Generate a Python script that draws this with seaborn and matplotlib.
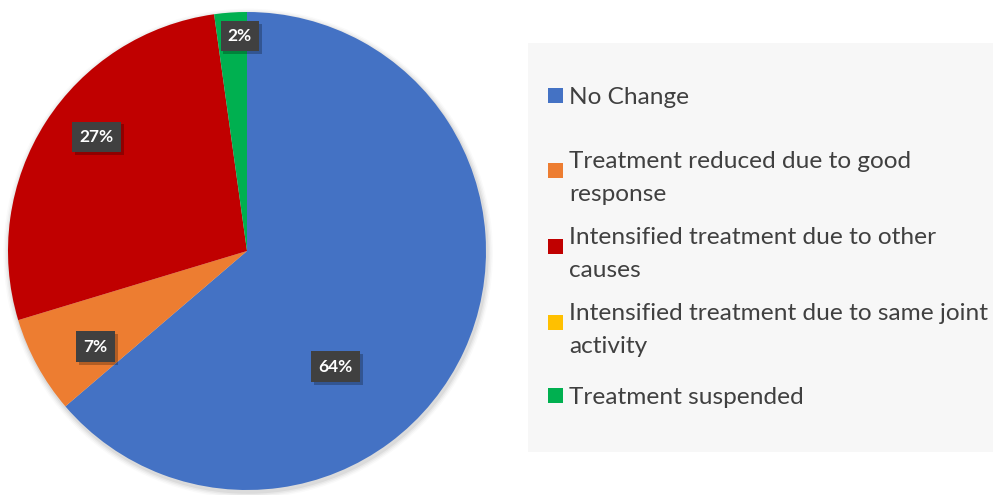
import numpy as np
import matplotlib
matplotlib.use("Agg")
import matplotlib.pyplot as plt
from matplotlib.patches import Rectangle
import matplotlib.patheffects as pe
import seaborn as sns

categories = [
    "No Change",
    "Treatment reduced due to good\nresponse",
    "Intensified treatment due to other\ncauses",
    "Intensified treatment due to same joint\nactivity",
    "Treatment suspended",
]
counts = [58, 6, 25, 0, 2]
pct_labels = ["64%", "7%", "27%", "", "2%"]

colors = sns.color_palette(["#4472C4", "#ED7D31", "#C00000", "#FFC000", "#00B050"])
# label placement (radius fraction, angle in degrees) - styling
label_r = [0.61, 0.75, 0.79, 0.0, 0.90]
label_ang = [-52.5, 212.3, 142.8, 0.0, 91.9]

sns.set_theme(style="white")
plt.rcParams["font.family"] = ["Lato", "DejaVu Sans"]

W, H = 993, 495
fig = plt.figure(figsize=(W / 100, H / 100), dpi=100)
fig.patch.set_facecolor("white")

cx, cy, R = 247, 251, 239
lim = 1.03
RA = R * lim
ax = fig.add_axes([(cx - RA) / W, (H - cy - RA) / H, 2 * RA / W, 2 * RA / H])
# soft edge shadow
for k, a in enumerate([0.05, 0.04, 0.03, 0.02]):
    ax.add_patch(plt.Circle((0.005, -0.01), 1.0 + 0.006 * (k + 1), color="black",
                            alpha=a, lw=0, zorder=0))
ax.pie(counts, colors=colors, startangle=90, counterclock=False,
       radius=1.0, wedgeprops=dict(linewidth=0, zorder=1))
ax.set_xlim(-lim, lim)
ax.set_ylim(-lim, lim)
ax.set_aspect("equal")
ax.axis("off")

for lab, r, a in zip(pct_labels, label_r, label_ang):
    if not lab:
        continue
    x, y = r * np.cos(np.radians(a)), r * np.sin(np.radians(a))
    t = ax.text(x, y, lab, ha="center", va="center", color="white",
                fontsize=12.5, fontweight="bold", zorder=4,
                bbox=dict(boxstyle="square,pad=0.42", facecolor="#404040",
                          edgecolor="none"))
    t.get_bbox_patch().set_path_effects(
        [pe.SimplePatchShadow(offset=(2, -2), shadow_rgbFace="black", alpha=0.25),
         pe.Normal()])

# legend panel
fig.patches.append(Rectangle((528 / W, (H - 452) / H), (W - 528) / W, (452 - 43) / H,
                             transform=fig.transFigure, facecolor="#F7F7F7",
                             edgecolor="none", zorder=0))
entry_y = [95, 170, 246, 322, 395]
sq = 15
for lab, col, y in zip(categories, colors, entry_y):
    fig.patches.append(Rectangle((548 / W, (H - y - sq / 2) / H), sq / W, sq / H,
                                 transform=fig.transFigure, facecolor=col,
                                 edgecolor="none", zorder=1))
    fig.text(569 / W, (H - y) / H, lab, ha="left", va="center_baseline",
             fontsize=17.6, color="#404040", linespacing=1.72)

fig.savefig("out.png", dpi=100)
